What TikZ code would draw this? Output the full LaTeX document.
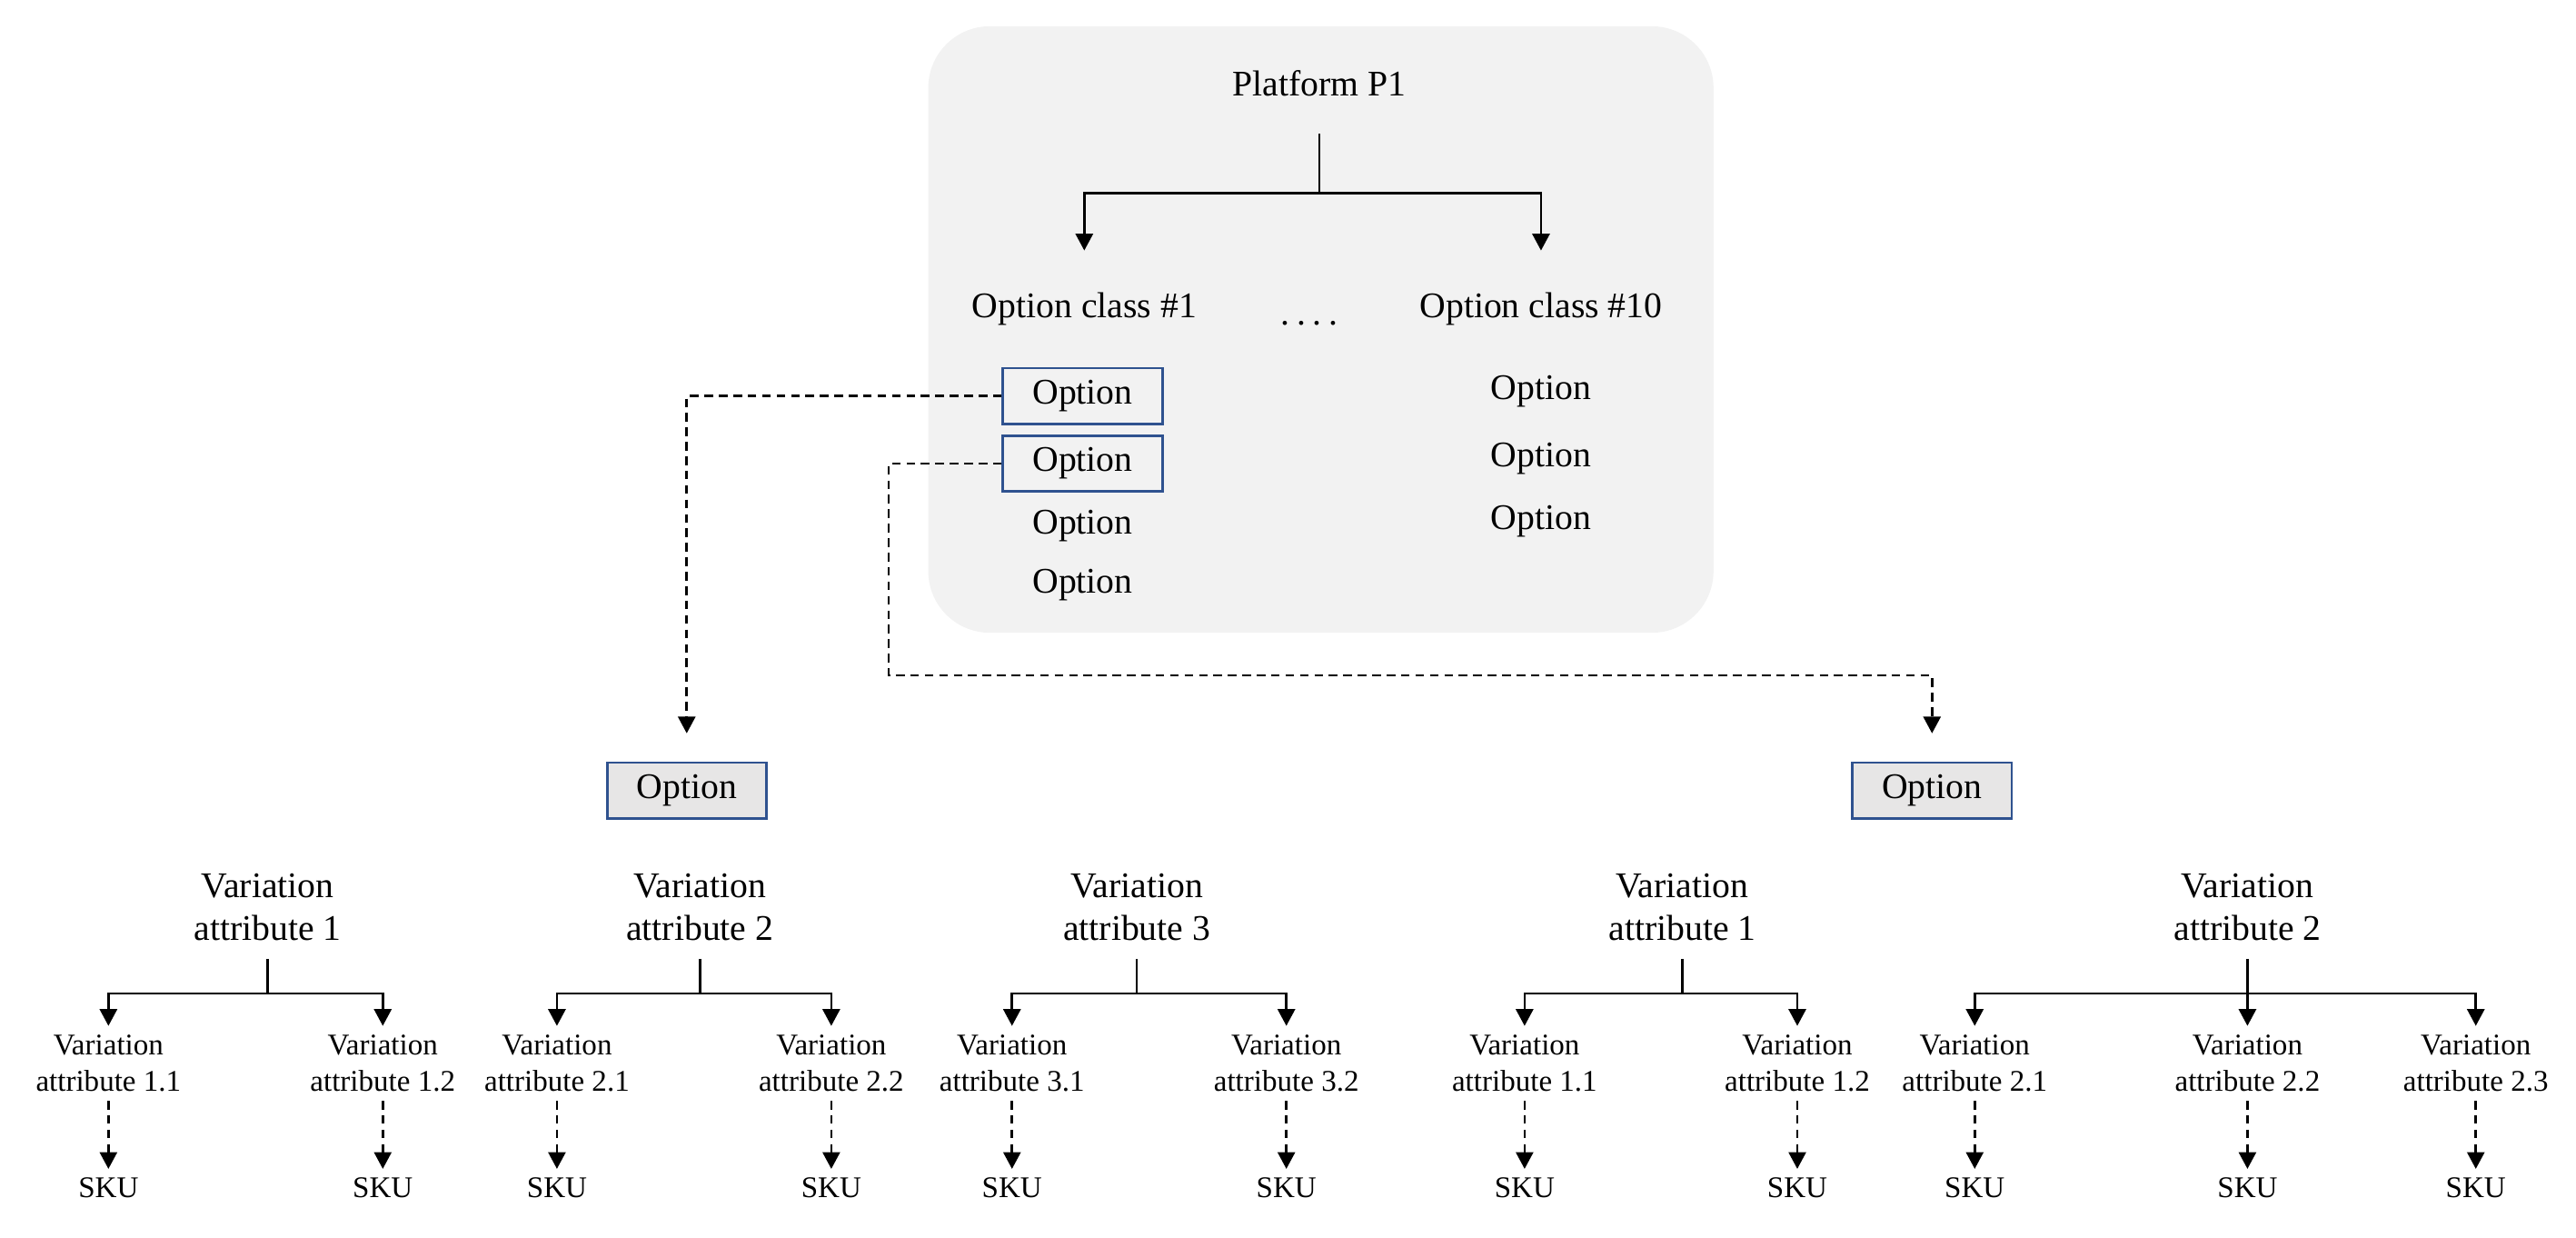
\documentclass[tikz,border=0pt]{standalone}
\usepackage{fontspec}
\setmainfont{Liberation Serif}
\usetikzlibrary{arrows.meta,positioning}
\definecolor{pnl}{HTML}{F2F2F2}
\definecolor{optblue}{HTML}{2F528F}
\definecolor{optfill}{HTML}{E7E6E6}
\newcommand{\bigf}{\fontsize{12.5}{15}\selectfont}
\newcommand{\smf}{\fontsize{10.4}{12.5}\selectfont}

\begin{document}
\begin{tikzpicture}[x=0.02cm,y=-0.02cm,
  every node/.style={font=\bigf,inner sep=3pt,align=center},
  ln/.style={line width=0.8pt},
  ar/.style={ln,-{Triangle[width=6pt,length=5.8pt]}},
  da/.style={ar,dash pattern=on 3pt off 2pt},
  ob/.style={draw=optblue,line width=0.9pt,minimum width=1.94cm,minimum height=0.68cm,inner sep=0pt},
  of/.style={ob,fill=optfill},
  pa/.style={inner ysep=6pt},
  sm/.style={font=\smf}]
\useasboundingbox (0,0) rectangle (1568,753);
\fill[pnl,rounded corners=0.75cm] (565,16) rectangle (1043,385);

% platform and option classes
\node (plat) at (803,51) {Platform P1};
\node (oc1) at (660,188) {Option class \#1};
\node (oc10) at (938,188) {Option class \#10};
\node (dots) at (797,197) {.\hspace{2.5pt}.\hspace{2.5pt}.\hspace{2.5pt}.};
\node[ob] (o1) at (659,241) {Option};
\node[ob] (o2) at (659,282) {Option};
\node (o3) at (659,320) {Option};
\node (o4) at (659,356) {Option};
\node (r1) at (938,238) {Option};
\node (r2) at (938,279) {Option};
\node (r3) at (938,317) {Option};

\draw[ln] (plat.south) ++(0,17) -- ++(0,36) coordinate (pj);
\draw[ar,shorten >=0.4cm] (pj) -| (oc1);
\draw[ar,shorten >=0.4cm] (pj) -| (oc10);

% selected options
\node[of] (lo) at (418,481) {Option};
\node[of] (ro) at (1176,481) {Option};
\coordinate (bend) at (541,411);
\draw[da,shorten >=0.34cm] (o1.west) -| (lo);
\draw[da,shorten >=0.34cm] (o2.west) -| (bend) -| (ro);

% variation attributes, left option
\node[pa] (va1) at (163,552) {Variation\\attribute 1};
\node[pa] (va2) at (426,552) {Variation\\attribute 2};
\node[pa] (va3) at (692,552) {Variation\\attribute 3};
\node[sm] (a11) at (66,647) {Variation\\attribute 1.1};
\node[sm] (a12) at (233,647) {Variation\\attribute 1.2};
\node[sm] (a21) at (339,647) {Variation\\attribute 2.1};
\node[sm] (a22) at (506,647) {Variation\\attribute 2.2};
\node[sm] (a31) at (616,647) {Variation\\attribute 3.1};
\node[sm] (a32) at (783,647) {Variation\\attribute 3.2};
\node[sm] (k11) at (66,723) {SKU};
\node[sm] (k12) at (233,723) {SKU};
\node[sm] (k21) at (339,723) {SKU};
\node[sm] (k22) at (506,723) {SKU};
\node[sm] (k31) at (616,723) {SKU};
\node[sm] (k32) at (783,723) {SKU};

% variation attributes, right option
\node[pa] (vb1) at (1024,552) {Variation\\attribute 1};
\node[pa] (vb2) at (1368,552) {Variation\\attribute 2};
\node[sm] (b11) at (928,647) {Variation\\attribute 1.1};
\node[sm] (b12) at (1094,647) {Variation\\attribute 1.2};
\node[sm] (b21) at (1202,647) {Variation\\attribute 2.1};
\node[sm] (b22) at (1368,647) {Variation\\attribute 2.2};
\node[sm] (b23) at (1507,647) {Variation\\attribute 2.3};
\node[sm] (m11) at (928,723) {SKU};
\node[sm] (m12) at (1094,723) {SKU};
\node[sm] (m21) at (1202,723) {SKU};
\node[sm] (m22) at (1368,723) {SKU};
\node[sm] (m23) at (1507,723) {SKU};

\draw[ln] (va1.south) -- ++(0,21) coordinate (j1);
\draw[ln] (va2.south) -- ++(0,21) coordinate (j2);
\draw[ln] (va3.south) -- ++(0,21) coordinate (j3);
\draw[ln] (vb1.south) -- ++(0,21) coordinate (j4);
\draw[ln] (vb2.south) -- ++(0,21) coordinate (j5);
\draw[ar] (j1) -| (a11); \draw[ar] (j1) -| (a12);
\draw[ar] (j2) -| (a21); \draw[ar] (j2) -| (a22);
\draw[ar] (j3) -| (a31); \draw[ar] (j3) -| (a32);
\draw[ar] (j4) -| (b11); \draw[ar] (j4) -| (b12);
\draw[ar] (j5) -| (b21); \draw[ar] (j5) -- (b22); \draw[ar] (j5) -| (b23);

\draw[da] (a11) -- (k11); \draw[da] (a12) -- (k12);
\draw[da] (a21) -- (k21); \draw[da] (a22) -- (k22);
\draw[da] (a31) -- (k31); \draw[da] (a32) -- (k32);
\draw[da] (b11) -- (m11); \draw[da] (b12) -- (m12);
\draw[da] (b21) -- (m21); \draw[da] (b22) -- (m22);
\draw[da] (b23) -- (m23);
\end{tikzpicture}
\end{document}
